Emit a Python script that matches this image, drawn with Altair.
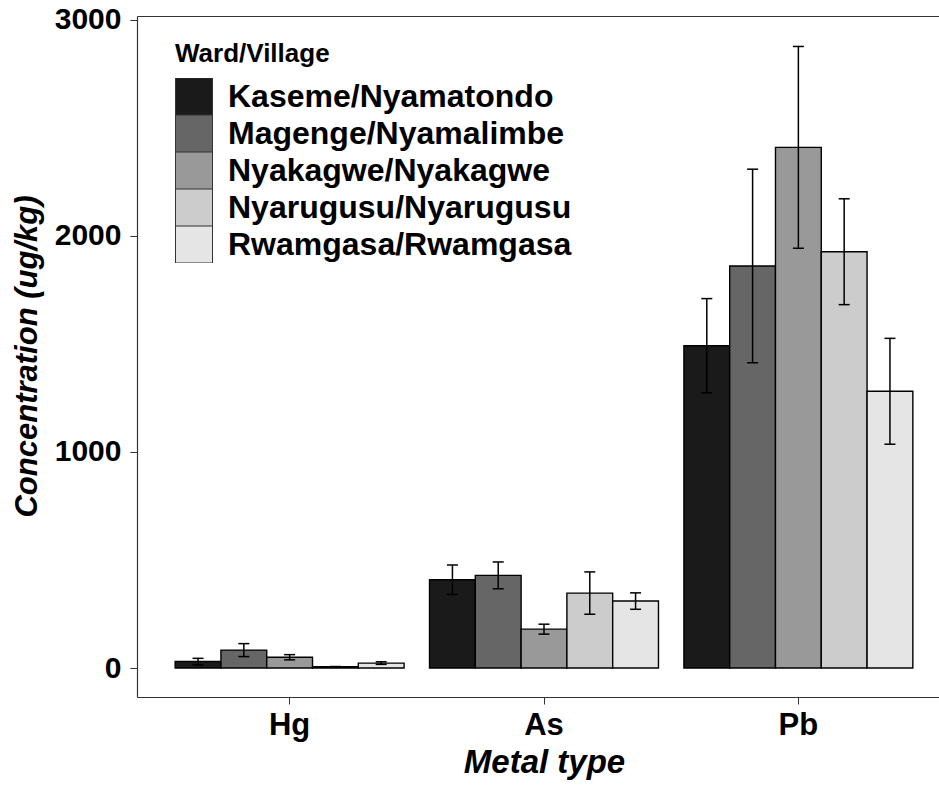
import altair as alt
import pandas as pd

metals = ["Hg", "As", "Pb"]
villages = ["Kaseme/Nyamatondo", "Magenge/Nyamalimbe", "Nyakagwe/Nyakagwe",
            "Nyarugusu/Nyarugusu", "Rwamgasa/Rwamgasa"]
greys = ["#1a1a1a", "#666666", "#999999", "#cccccc", "#e5e5e5"]

hg_mean = [30, 83, 50, 6, 23]
hg_err = [15, 30, 12, 1, 6]
as_mean = [409, 429, 180, 347, 310]
as_err = [68, 62, 23, 98, 38]
pb_mean = [1492, 1861, 2410, 1927, 1281]
pb_err = [218, 448, 467, 245, 245]

y_ticks = [0, 1000, 2000, 3000]

rows = []
for metal, means, errs in zip(metals, [hg_mean, as_mean, pb_mean], [hg_err, as_err, pb_err]):
    for v, m, e in zip(villages, means, errs):
        rows.append({"metal": metal, "village": v, "mean": m, "lo": m - e, "hi": m + e})
df = pd.DataFrame(rows)

FONT = "Liberation Sans"
AX = "#333333"

xscale = alt.Scale(range=[0, 814], paddingInner=0.1, paddingOuter=0.15)
offscale = alt.Scale(domain=villages, paddingInner=0, paddingOuter=0)
yscale = alt.Scale(domain=[-134, 3018], nice=False, zero=False)

x_bottom = alt.X("metal:N", sort=metals, scale=xscale,
                 axis=alt.Axis(title="Metal type", orient="bottom", labelAngle=0,
                               labelFont=FONT, labelFontSize=31, labelFontWeight="bold",
                               labelColor="black", labelPadding=6,
                               tickSize=7, tickColor=AX, domainColor=AX, domainWidth=1.2,
                               titleFont=FONT, titleFontSize=33, titleFontWeight="bold",
                               titleFontStyle="italic", titleColor="black",
                               titleX=407, titleY=75, titleBaseline="alphabetic",
                               titleAlign="center", grid=False))
x_none = alt.X("metal:N", sort=metals, scale=xscale, axis=None)
x_top = alt.X("metal:N", sort=metals, scale=xscale,
              axis=alt.Axis(title=None, orient="top", labels=False, ticks=False,
                            domain=True, domainColor=AX, domainWidth=1.2, grid=False))
xoff = alt.XOffset("village:N", sort=villages, scale=offscale)

y_axis = alt.Axis(title="Concentration (ug/kg)", values=y_ticks, format="d", grid=False,
                  labelFont=FONT, labelFontSize=30, labelFontWeight="bold",
                  labelColor="black", labelPadding=9, tickSize=7, tickColor=AX,
                  domainColor=AX, domainWidth=1.2,
                  titleFont=FONT, titleFontSize=31, titleFontWeight="bold",
                  titleFontStyle="italic", titleColor="black",
                  titleX=-110, titleY=340, titleAngle=-90, titleAlign="center",
                  titleBaseline="middle")

base = alt.Chart(df)

bars = base.mark_bar(stroke="black", strokeWidth=1.4, opacity=1).encode(
    x=x_bottom,
    xOffset=xoff,
    y=alt.Y("mean:Q", scale=yscale, axis=y_axis),
    y2=alt.datum(0),
    color=alt.Color("village:N", sort=villages,
                    scale=alt.Scale(domain=villages, range=greys),
                    legend=alt.Legend(title="Ward/Village", orient="none",
                                      legendX=38, legendY=25, padding=0,
                                      titleFont=FONT, titleFontSize=26,
                                      titleFontWeight="bold", titleColor="black",
                                      titlePadding=11,
                                      labelFont=FONT, labelFontSize=32,
                                      labelFontWeight="bold", labelColor="black",
                                      labelOffset=15, labelLimit=0,
                                      symbolType="square", symbolSize=1369,
                                      symbolStrokeColor="#333333",
                                      symbolStrokeWidth=1, symbolOpacity=1,
                                      clipHeight=37, rowPadding=0)),
)

rules = base.mark_rule(color="black", strokeWidth=1.5).encode(
    x=x_none, xOffset=xoff,
    y=alt.Y("lo:Q", scale=yscale), y2="hi:Q")

lo_ticks = base.mark_tick(color="black", thickness=1.5, size=11, opacity=1).encode(
    x=x_none, xOffset=xoff, y=alt.Y("lo:Q", scale=yscale))

hi_ticks = base.mark_tick(color="black", thickness=1.5, size=11, opacity=1).encode(
    x=x_top, xOffset=xoff, y=alt.Y("hi:Q", scale=yscale))

chart = alt.layer(bars, rules, lo_ticks, hi_ticks).resolve_axis(
    x="independent"
).properties(
    width=802, height=681,
    padding={"left": 137, "top": 16, "right": 0, "bottom": 90},
    autosize=alt.AutoSizeParams(type="none"),
    background="white",
).configure_view(stroke=None)

chart.save("out.html", embed_options={"renderer": "svg", "actions": False})
